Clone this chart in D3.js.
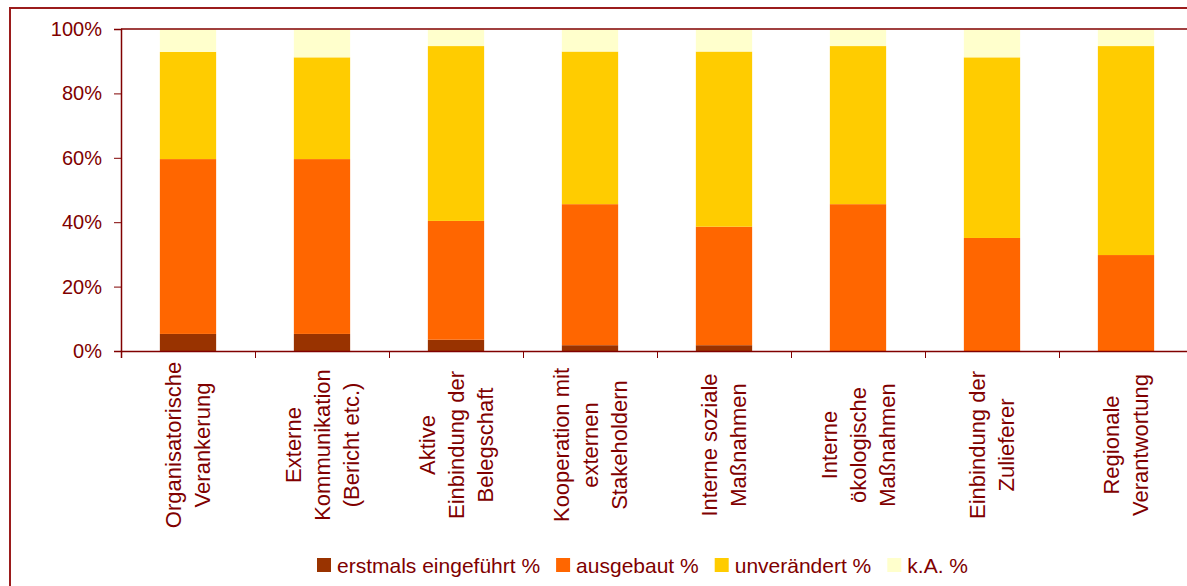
<!DOCTYPE html>
<meta charset="utf-8">
<style>
body { margin: 0; background: #fff; }
svg { display: block; font-family: "Liberation Sans", Arial, sans-serif; }
.axis path, .axis line { stroke: #800000; }
.axis text { fill: #800000; font-size: 20px; }
</style>
<svg width="1187" height="586"></svg>
<script src="https://d3js.org/d3.v7.min.js"></script>
<script>

var categories = [
  ["Organisatorische", "Verankerung"],
  ["Externe", "Kommunikation", "(Bericht etc.)"],
  ["Aktive", "Einbindung der", "Belegschaft"],
  ["Kooperation mit", "externen", "Stakeholdern"],
  ["Interne soziale", "Maßnahmen"],
  ["Interne", "ökologische", "Maßnahmen"],
  ["Einbindung der", "Zulieferer"],
  ["Regionale", "Verantwortung"]
];

var seriesNames = ["erstmals eingeführt %", "ausgebaut %", "unverändert %", "k.A. %"];
var erstmals    = [5.3, 5.3, 3.5, 1.8, 1.8, 0, 0, 0];
var ausgebaut   = [54.3, 54.3, 36.9, 43.8, 36.8, 45.6, 35.1, 29.8];
var unveraendert = [33.3, 31.6, 54.3, 47.4, 54.4, 49.1, 56.1, 64.9];
var keineAngabe = [7.1, 8.8, 5.3, 7.0, 7.0, 5.3, 8.8, 5.3];
var yTicks = [0, 20, 40, 60, 80, 100];

var colors = ["#993300", "#ff6600", "#ffcc00", "#ffffcc"];
var dark = "#800000";

var svg = d3.select("svg");

var plotLeft = 121, plotRight = 1193, plotTop = 29, plotBottom = 351;

// outer frame
svg.append("rect")
    .attr("x", 10).attr("y", 8)
    .attr("width", 1200).attr("height", 600)
    .attr("fill", "none")
    .attr("stroke", "#9b1c1c")
    .attr("stroke-width", 2);

var keys = d3.range(categories.length);
var x = d3.scaleBand()
    .domain(keys)
    .range([plotLeft, plotRight])
    .paddingInner(0.58)
    .paddingOuter(0.29);

var y = d3.scaleLinear().domain([0, 100]).range([plotBottom, plotTop]);

var rows = keys.map(function(i) {
  return { i: i, s0: erstmals[i], s1: ausgebaut[i], s2: unveraendert[i], s3: keineAngabe[i] };
});
var layers = d3.stack().keys(["s0", "s1", "s2", "s3"])(rows);

svg.append("g")
  .selectAll("g")
  .data(layers)
  .enter().append("g")
    .attr("fill", function(d, k) { return colors[k]; })
  .selectAll("rect")
  .data(function(d) { return d; })
  .enter().append("rect")
    .attr("x", function(d) { return x(d.data.i); })
    .attr("width", x.bandwidth())
    .attr("y", function(d) { return y(d[1]); })
    .attr("height", function(d) { return y(d[0]) - y(d[1]); });

// plot area top border
svg.append("line")
    .attr("x1", plotLeft).attr("x2", plotRight)
    .attr("y1", plotTop).attr("y2", plotTop)
    .attr("stroke", dark).attr("stroke-width", 1.5);

// y axis
svg.append("g")
    .attr("class", "axis")
    .attr("transform", "translate(" + plotLeft + ",0)")
    .call(d3.axisLeft(y).tickValues(yTicks).tickSize(7).tickPadding(12)
      .tickFormat(function(d) { return d + "%"; }))
    .call(function(g) { g.select(".domain").attr("stroke-width", 1.5); });

// x axis with ticks between categories
var xb = d3.scaleLinear().domain([0, categories.length]).range([plotLeft, plotRight]);
svg.append("g")
    .attr("class", "axis")
    .attr("transform", "translate(0," + plotBottom + ")")
    .call(d3.axisBottom(xb).tickValues(d3.range(categories.length + 1)).tickSize(7).tickFormat(""))
    .call(function(g) { g.select(".domain").attr("stroke-width", 1.5); });

// category labels, rotated
var lineGap = 29, labelMid = 445;
svg.append("g")
  .selectAll("g")
  .data(categories)
  .enter().append("g")
  .each(function(lines, i) {
    var cx = x(i) + x.bandwidth() / 2;
    var n = lines.length;
    d3.select(this).selectAll("text")
      .data(lines)
      .enter().append("text")
        .attr("transform", function(t, j) {
          return "translate(" + (cx + (j - (n - 1) / 2) * lineGap) + "," + labelMid + ") rotate(-90)";
        })
        .attr("text-anchor", "middle")
        .attr("dominant-baseline", "central")
        .attr("fill", dark)
        .attr("font-size", 22)
        .text(function(t) { return t; });
  });

// legend
var legend = svg.append("g");
var lx = 317, ly = 565;
seriesNames.forEach(function(name, k) {
  legend.append("rect")
      .attr("x", lx).attr("y", ly - 7)
      .attr("width", 14).attr("height", 14)
      .attr("fill", colors[k]);
  var t = legend.append("text")
      .attr("x", lx + 20).attr("y", ly)
      .attr("dominant-baseline", "central")
      .attr("fill", dark)
      .attr("font-size", 21)
      .text(name);
  lx += 20 + t.node().getComputedTextLength() + 16;
});

</script>
